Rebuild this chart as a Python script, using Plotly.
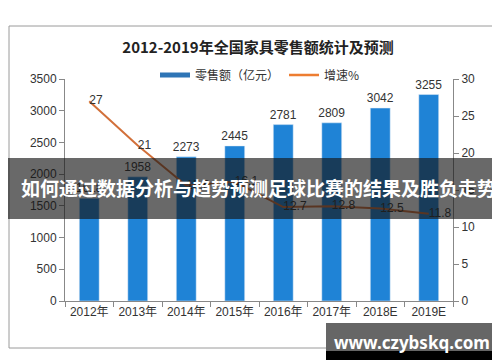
import plotly.graph_objects as go

years = ["2012年", "2013年", "2014年", "2015年", "2016年", "2017年", "2018E", "2019E"]
sales = [1618, 1958, 2273, 2445, 2781, 2809, 3042, 3255]
growth = [27, 21, 15.6, 16.1, 12.7, 12.8, 12.5, 11.8]
growth_labels = ["27", "21", "15.6", "16.1", "12.7", "12.8", "12.5", "11.8"]

BLUE = "#1F83D6"
ORANGE = "#D2703A"
FONT = "Liberation Sans, Arial, sans-serif"
CJK = "Noto Sans CJK SC"

# plot area geometry in px (for overlay shapes in paper coords)
L, R, T, B = 57, 445, 71, 293
W, H = R - L, B - T
def px(x):
    return (x - L) / W
def py(y):
    return (B - y) / H

fig = go.Figure()
fig.add_trace(go.Bar(
    x=years, y=sales, marker_color=BLUE, width=0.41,
    text=[str(v) for v in sales], textposition="outside", constraintext="none",
    textfont=dict(family=FONT, size=12, color="#333333"),
    cliponaxis=False, showlegend=False, yaxis="y"))
fig.add_trace(go.Scatter(
    x=years, y=growth, mode="lines+text", line=dict(color=ORANGE, width=2),
    text=growth_labels, textposition="middle right",
    textfont=dict(family=FONT, size=12, color="#333333"),
    cliponaxis=False, showlegend=False, yaxis="y2"))
# legend entries
fig.add_trace(go.Scatter(x=[None], y=[None], mode="lines", name="零售额（亿元）",
                         line=dict(color="#2E75B6", width=5)))
fig.add_trace(go.Scatter(x=[None], y=[None], mode="lines", name="增速%",
                         line=dict(color="#ED7D31", width=2.5)))

shapes = [
    # outer border
    dict(type="rect", xref="paper", yref="paper", x0=px(1), x1=px(497), y0=py(340), y1=py(18),
         line=dict(color="#9A9A9A", width=1), fillcolor="rgba(0,0,0,0)", layer="below"),
    # dark overlay band
    dict(type="rect", xref="paper", yref="paper", x0=px(-2), x1=px(502), y0=py(211), y1=py(150),
         line=dict(width=0), fillcolor="rgba(20,20,20,0.64)", layer="above"),
    # watermark box
    dict(type="rect", xref="paper", yref="paper", x0=px(318), x1=px(491), y0=py(343), y1=py(315),
         line=dict(width=0), fillcolor="#666666", layer="above"),
    dict(type="rect", xref="paper", yref="paper", x0=px(318), x1=px(491), y0=py(352), y1=py(343),
         line=dict(width=0), fillcolor="#000000", layer="above"),
]

annotations = [
    dict(text="如何通过数据分析与趋势预测足球比赛的结果及胜负走势", xref="paper", yref="paper",
         x=px(250), y=py(179), showarrow=False, xanchor="center", yanchor="middle",
         font=dict(family=CJK, size=19, color="white", weight="bold")),
    dict(text="www.czybskq.com", xref="paper", yref="paper",
         x=px(404), y=py(334), showarrow=False, xanchor="center", yanchor="middle",
         font=dict(family="Noto Sans, DejaVu Sans, sans-serif", size=17, color="white", weight="bold")),
]

fig.update_layout(
    width=500, height=362,
    margin=dict(l=L, r=500 - R, t=T, b=362 - B),
    paper_bgcolor="white", plot_bgcolor="white",
    title=dict(text="<b>2012-2019年全国家具零售额统计及预测</b>", x=0.5, xanchor="center",
               y=1 - 40 / 362, yanchor="middle", font=dict(family=CJK, size=15, color="#222222")),
    legend=dict(orientation="h", x=px(252), xanchor="center", y=py(67), yanchor="middle",
                font=dict(family=CJK, size=12, color="#333333"), itemwidth=30,
                bgcolor="rgba(0,0,0,0)"),
    xaxis=dict(type="category", showline=True, linecolor="#888888", ticks="outside",
               tickson="boundaries", ticklen=5, tickcolor="#888888",
               tickfont=dict(family=FONT + ", " + CJK, size=12, color="#333333"), showgrid=False),
    yaxis=dict(range=[0, 3500], dtick=500, showline=True, linecolor="#888888", ticks="outside",
               ticklen=5, tickcolor="#888888", showgrid=False, zeroline=False,
               tickfont=dict(family=FONT, size=12, color="#333333")),
    yaxis2=dict(range=[0, 30], dtick=5, overlaying="y", side="right", showline=True,
                linecolor="#888888", ticks="outside", ticklen=5, tickcolor="#888888",
                showgrid=False, zeroline=False,
                tickfont=dict(family=FONT, size=12, color="#333333")),
    shapes=shapes, annotations=annotations,
)

fig.write_html("out.html")
